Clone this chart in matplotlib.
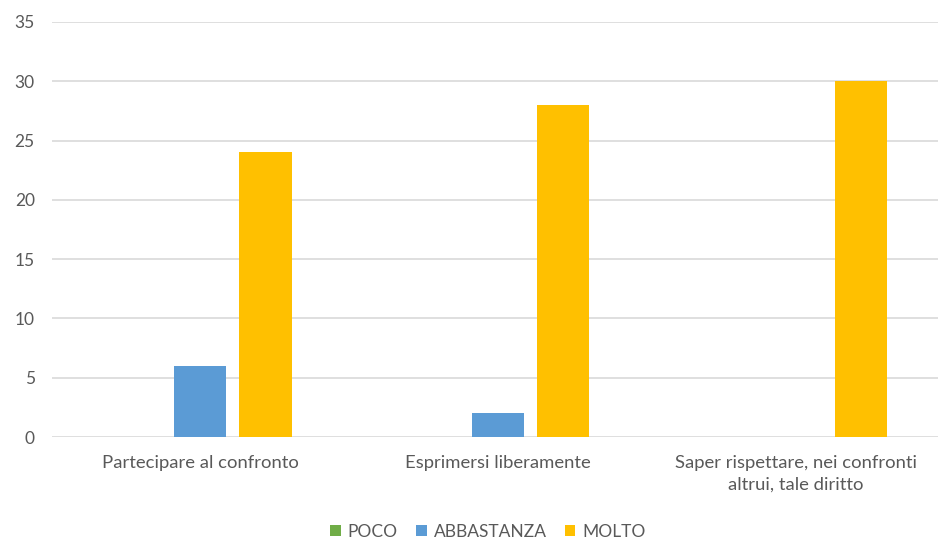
import matplotlib
matplotlib.use("Agg")
import matplotlib.pyplot as plt
import numpy as np

categories = ["Partecipare al confronto", "Esprimersi liberamente",
              "Saper rispettare, nei confronti\naltrui, tale diritto"]
series_names = ["POCO", "ABBASTANZA", "MOLTO"]
poco = [0, 0, 0]
abbastanza = [6, 2, 0]
molto = [24, 28, 30]
colors = ["#70ad47", "#5b9bd5", "#ffc000"]
yticks = [0, 5, 10, 15, 20, 25, 30, 35]

plt.rcParams['font.family'] = ['Lato', 'DejaVu Sans']
fig = plt.figure(figsize=(9.38, 5.41), dpi=100)
ax = fig.add_axes([51.5/938, 1-437/541, 893/938, (437-22)/541])

x = np.arange(len(categories))
step = 0.219
width = 0.175
for i, (vals, name, c) in enumerate(zip([poco, abbastanza, molto], series_names, colors)):
    ax.bar(x + (i-1)*step, vals, width, color=c, label=name, zorder=3)

ax.set_xlim(-0.5, 2.5)
ax.set_ylim(0, 35)
ax.set_yticks(yticks)
ax.set_xticks(x)
ax.set_xticklabels(categories, fontsize=13.3, color="#595959", linespacing=1.45)
ax.tick_params(axis='y', labelsize=12.5, labelcolor="#595959", length=0, pad=12)
ax.tick_params(axis='x', length=0, pad=13)
ax.grid(axis='y', color="#d9d9d9", linewidth=1.2, zorder=0)
for s in ax.spines.values():
    s.set_visible(False)

leg = ax.legend(loc='center', bbox_to_anchor=(488/938, 1-532/541), bbox_transform=fig.transFigure,
                ncol=3, frameon=False, fontsize=12.5, handlelength=0.6, handleheight=0.6,
                handletextpad=0.4, columnspacing=1.05)
for t in leg.get_texts():
    t.set_color("#595959")

fig.savefig("out.png", dpi=100)
